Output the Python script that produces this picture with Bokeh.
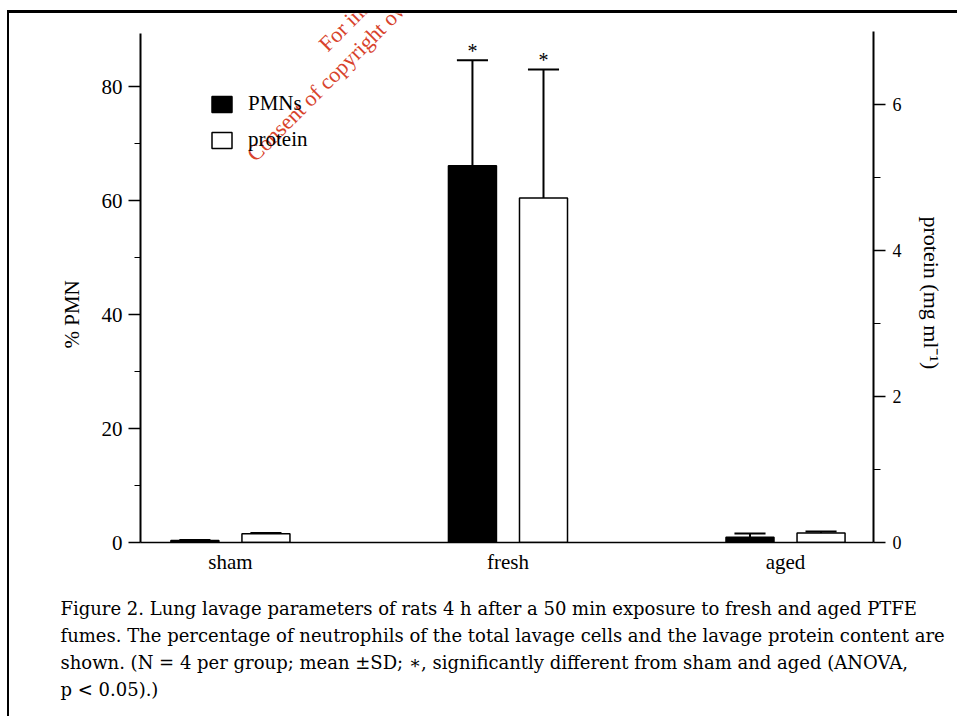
import numpy as np
from bokeh.plotting import figure
from bokeh.models import (Range1d, LinearAxis, FixedTicker, Label, Legend,
                          LegendItem, ColumnDataSource, Title)
from bokeh.embed import file_html
from bokeh.resources import INLINE
from bokeh.core.properties import value

# ---------------- data ----------------
categories = ["sham", "fresh", "aged"]
pmn_mean = [0.35, 66.1, 0.9]          # % PMN
pmn_sd = [0.1, 18.5, 0.7]
protein_mean = [0.12, 4.72, 0.13]     # mg/ml
protein_sd = [0.01, 1.76, 0.02]
significant = [False, True, False]
pmn_ticks = [0, 20, 40, 60, 80]
pmn_minor_ticks = [10, 30, 50, 70]
protein_ticks = [0, 2, 4, 6]
protein_minor_ticks = [1, 3, 5]
series_names = ["PMNs", "protein"]
axis_left_label = "% PMN"
axis_right_label = "protein (mg ml\u207b\u00b9)"
caption_lines = [
    "Figure 2. Lung lavage parameters of rats 4 h after a 50 min exposure to fresh and aged PTFE",
    "fumes. The percentage of neutrophils of the total lavage cells and the lavage protein content are",
    "shown. (N = 4 per group; mean \u00b1SD; \u2217, significantly different from sham and aged (ANOVA,",
    "p < 0.05).)",
]
watermark_lines = [
    "For inspection purposes only.",
    "Consent of copyright owner required for any other use.",
]

FONT = "Liberation Serif"
CAP_FONT = "DejaVu Serif"
W, H = 950, 706

pos = np.arange(len(categories), dtype=float)
offset = 0.128
bar_w = 0.173
cap_half = 0.056

pmn_x = pos - offset
prot_x = pos + offset

pmn_src = ColumnDataSource(dict(
    x=pmn_x, top=pmn_mean,
    upper=[m + s for m, s in zip(pmn_mean, pmn_sd)],
    x0=pmn_x - cap_half, x1=pmn_x + cap_half))
prot_src = ColumnDataSource(dict(
    x=prot_x, top=protein_mean,
    upper=[m + s for m, s in zip(protein_mean, protein_sd)],
    x0=prot_x - cap_half, x1=prot_x + cap_half))

p = figure(width=W, height=H, output_backend="svg", toolbar_location=None,
           x_range=Range1d(-0.324, 2.317), y_range=Range1d(0, 92.81),
           min_border_left=131, min_border_right=86, min_border_top=0,
           min_border_bottom=177)
p.extra_y_ranges = {"protein": Range1d(0, 7.247)}
p.styles = {"border-top": "3px solid black", "border-left": "2px solid black",
            "margin-left": "7px", "margin-top": "10px"}
p.outline_line_color = None
p.xgrid.grid_line_color = None
p.ygrid.grid_line_color = None
p.background_fill_color = "white"
p.border_fill_color = "white"

# bars
r_pmn = p.vbar(x="x", top="top", width=bar_w, bottom=0, source=pmn_src,
               fill_color="black", line_color="black", line_width=1.5)
r_prot = p.vbar(x="x", top="top", width=bar_w, bottom=0, source=prot_src,
                fill_color="white", line_color="black", line_width=1.5,
                y_range_name="protein")

# error bars (upper only)
p.segment(x0="x", y0="top", x1="x", y1="upper", source=pmn_src,
          line_color="black", line_width=2)
p.segment(x0="x0", y0="upper", x1="x1", y1="upper", source=pmn_src,
          line_color="black", line_width=2)
p.segment(x0="x", y0="top", x1="x", y1="upper", source=prot_src,
          line_color="black", line_width=2, y_range_name="protein")
p.segment(x0="x0", y0="upper", x1="x1", y1="upper", source=prot_src,
          line_color="black", line_width=2, y_range_name="protein")

# significance asterisks
sig_pmn = ColumnDataSource(dict(
    x=[x for x, s in zip(pmn_x, significant) if s],
    y=[m + d for m, d, s in zip(pmn_mean, pmn_sd, significant) if s]))
sig_prot = ColumnDataSource(dict(
    x=[x for x, s in zip(prot_x, significant) if s],
    y=[m + d for m, d, s in zip(protein_mean, protein_sd, significant) if s]))
for src, rn in ((sig_pmn, "default"), (sig_prot, "protein")):
    p.text(x="x", y="y", text=value("*"), source=src, y_range_name=rn,
           text_font=value(FONT), text_font_size="20px", text_align="center",
           text_baseline="middle", y_offset=-9, text_color="black")

# axes
xa = p.xaxis[0]
xa.ticker = FixedTicker(ticks=list(pos))
xa.major_label_overrides = {float(i): c for i, c in zip(pos, categories)}
xa.major_tick_line_color = None
xa.minor_tick_line_color = None
xa.axis_line_width = 1.5
xa.major_label_standoff = 1
xa.major_label_text_font = FONT
xa.major_label_text_font_size = "21px"
xa.major_label_text_color = "black"

ya = p.yaxis[0]
ya.ticker = FixedTicker(ticks=pmn_ticks, minor_ticks=pmn_minor_ticks)
ya.bounds = (0, 89.3)
ya.axis_line_width = 2
ya.major_tick_out = 12
ya.major_tick_in = 0
ya.minor_tick_out = 6
ya.minor_tick_in = 0
ya.major_tick_line_width = 1.5
ya.major_label_standoff = 6
ya.major_label_text_font = FONT
ya.major_label_text_font_size = "21px"
ya.major_label_text_color = "black"

ra = LinearAxis(y_range_name="protein",
                ticker=FixedTicker(ticks=protein_ticks, minor_ticks=protein_minor_ticks))
ra.bounds = (0, 7.0)
ra.axis_line_width = 2
ra.major_tick_out = 12
ra.major_tick_in = 0
ra.minor_tick_out = 7
ra.minor_tick_in = 0
ra.major_tick_line_width = 1.5
ra.major_label_standoff = 7
ra.major_label_text_font = FONT
ra.major_label_text_font_size = "18px"
ra.major_label_text_color = "black"
p.add_layout(ra, "right")

# axis titles (placed as side titles so they can sit off-centre like the original)
p.add_layout(Title(text=axis_left_label, align="left", offset=194,
                   vertical_align="bottom", standoff=30, text_font=FONT,
                   text_font_size="21px", text_font_style="normal",
                   text_color="black"), "left")
p.add_layout(Title(text=axis_right_label, align="left", offset=203,
                   vertical_align="bottom", standoff=28, text_font=FONT,
                   text_font_size="22px", text_font_style="normal",
                   text_color="black"), "right")

# legend
legend = Legend(items=[LegendItem(label=series_names[0], renderers=[r_pmn]),
                       LegendItem(label=series_names[1], renderers=[r_prot])],
                location=(69, 390), border_line_color=None,
                background_fill_alpha=0, padding=0, margin=0, spacing=11,
                glyph_width=25, glyph_height=20, label_standoff=14,
                label_height=20, label_text_font=FONT,
                label_text_font_size="21px", label_text_color="black")
p.add_layout(legend, "center")

# spacer + caption lines as titles stacked below the x axis
p.add_layout(Title(text=" ", text_font_size="2px", standoff=13), "below")
for line in caption_lines:
    p.add_layout(Title(text=line, align="left", offset=-80,
                       text_font=CAP_FONT, text_font_size="18px",
                       text_font_style="normal", text_color="black",
                       standoff=4), "below")

# watermark (screen units relative to plot frame)
wm_pos = [(182, 495), (110, 385)]
for line, (wx, wy) in zip(watermark_lines, wm_pos):
    p.add_layout(Label(x=wx, y=wy, x_units="screen", y_units="screen",
                       text=line, text_font=FONT, text_font_size="22px",
                       angle=np.pi / 4, text_align="left",
                       text_baseline="alphabetic", text_color="#d8432c"))

open("out.html", "w").write(file_html(p, INLINE))
